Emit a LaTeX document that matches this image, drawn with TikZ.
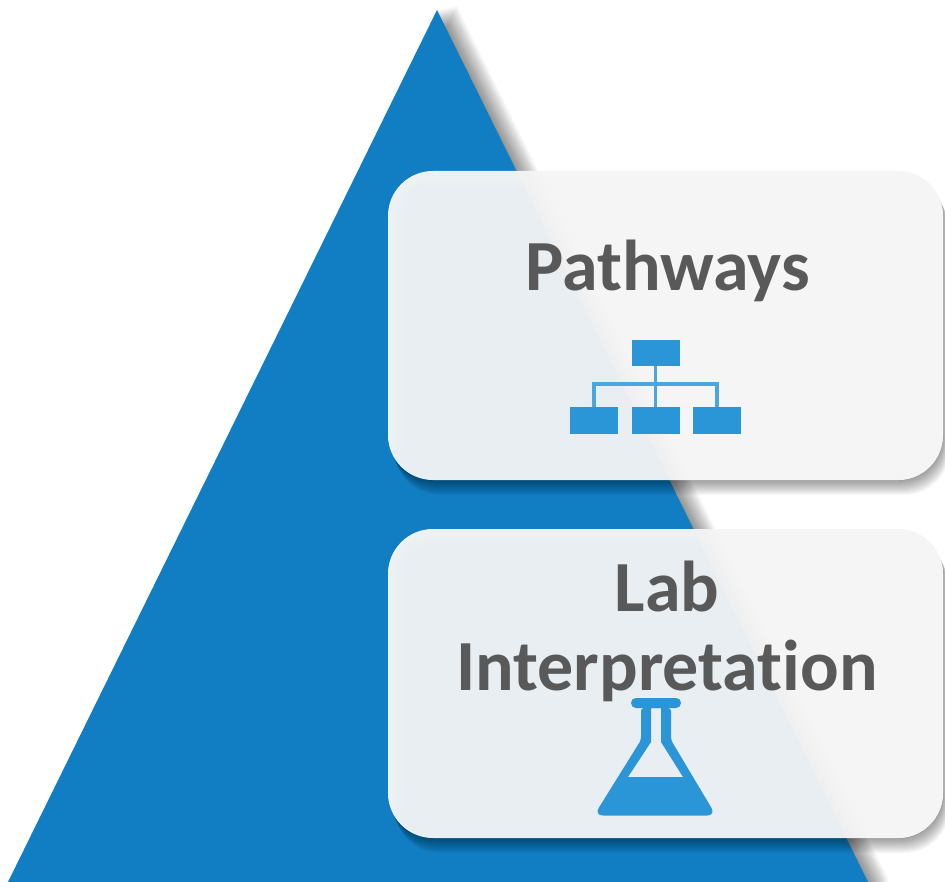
\documentclass[tikz,border=0pt]{standalone}
\usepackage{fontspec}
\setmainfont{Carlito}[Ligatures=CommonOff]
\definecolor{triblue}{HTML}{117DC2}
\definecolor{iconblue}{HTML}{2A96D8}
\definecolor{cardgray}{RGB}{245,245,245}
\definecolor{labelgray}{HTML}{595959}
\tikzset{
  iconbox/.style={draw=none,fill=iconblue,rectangle,minimum width=48pt,minimum height=27pt,inner sep=0pt,outer sep=0pt},
  iconline/.style={draw=iconblue!85,line width=3.4pt},
  cardlabel/.style={text=labelgray,font=\fontsize{72}{80}\selectfont\bfseries,align=center,inner sep=0pt,outer sep=0pt}
}
\newcommand{\drawcard}[2]{%
  % soft shadow, outside the card only
  \begin{scope}[even odd rule]
    \clip (0,0) rectangle (945,882) [rounded corners=45pt] (388,#1) -- (388,#2) -- (943,#2) -- (943,#1) -- cycle;
    \foreach \k in {1,...,15}{
      \fill[black,opacity=.028,rounded corners=45pt,shift={(\k*.45,\k)}]
        (388,#1) -- (388,#2) -- (943,#2) -- (943,#1) -- cycle;
    }
  \end{scope}
  % translucent card
  \fill[cardgray,opacity=.945,rounded corners=45pt] (388,#1) -- (388,#2) -- (943,#2) -- (943,#1) -- cycle;
  % light rim on the left and top
  \begin{scope}
    \clip [rounded corners=45pt] (388,#1) -- (388,#2) -- (943,#2) -- (943,#1) -- cycle;
    \foreach \w in {32,26,20,14,8}{
      \draw[white,opacity=.07,line width=\w pt,rounded corners=45pt]
        (388,#2-30) -- (388,#1) -- (920,#1);
    }
  \end{scope}
}
\begin{document}
\begin{tikzpicture}[x=1pt,y=-1pt]
\useasboundingbox (0,0) rectangle (945,882);
\fill[white] (0,0) rectangle (945,882);
\begin{scope}
\clip (0,0) rectangle (945,882);
% triangle shadow
\foreach \k in {1,...,20}{
  \fill[black,opacity=.024,shift={(\k,-\k*.2)}]
    (437,10) -- (868,882) -- (868,900) -- (8,900) -- (8,882) -- cycle;
}
% triangle
\fill[triblue] (437,10) -- (868,882) -- (8,882) -- cycle;
% cards
\drawcard{171}{480}
\drawcard{529}{838}
\end{scope}

% labels
\node[cardlabel,anchor=base] (pathways) at (668,291) {Pathways};
\node[cardlabel,anchor=base] (lab) at (667,611) {Lab};
\node[cardlabel,anchor=base] (interp) at (667,690) {Interpretation};

% pathway icon
\node[iconbox,minimum height=26pt] (top) at (655.5,353) {};
\node[iconbox] (left) at (594,420.5) {};
\node[iconbox] (mid) at (655.5,420.5) {};
\node[iconbox] (right) at (717,420.5) {};
\coordinate (bus) at (655.5,384);
\draw[iconline] (top.south) -- (mid.north);
\draw[iconline] (left.north) -- (left.north |- bus) -- (right.north |- bus) -- (right.north);

% flask icon
\fill[iconblue,even odd rule,rounded corners=3pt]
  (641,708) -- (641,740) [rounded corners=9pt] -- (594,815.5) -- (716,815.5) [rounded corners=3pt] -- (671,740) -- (671,708) -- cycle
  [sharp corners] (651,707) -- (651,742) -- (628,777) -- (683,777) -- (661,742) -- (661,707) -- cycle;
\fill[iconblue,rounded corners=4.9pt] (631,698) rectangle (681,708);
\end{tikzpicture}
\end{document}
